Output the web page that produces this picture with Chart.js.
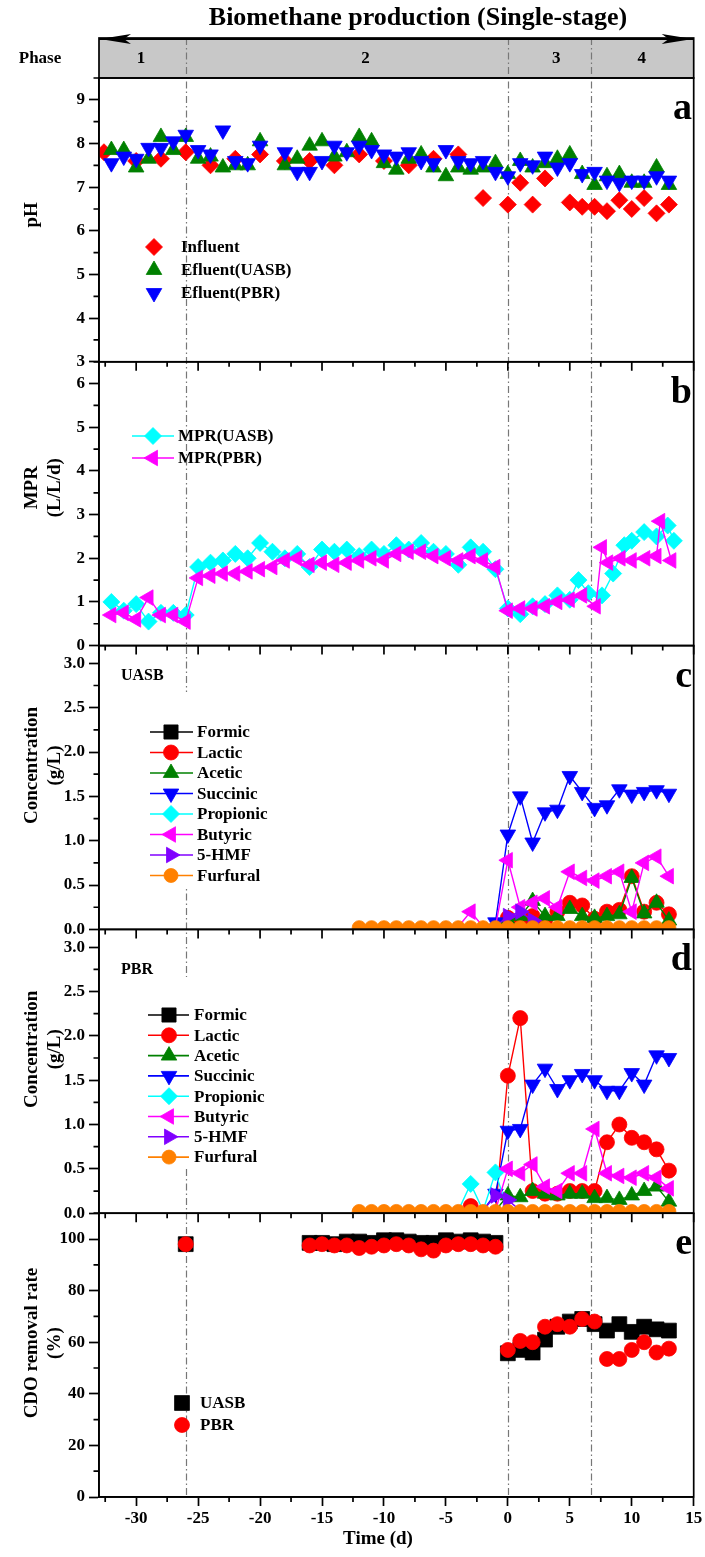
<!DOCTYPE html>
<html>
<head>
<meta charset="utf-8">
<title>Biomethane production (Single-stage)</title>
<script src="https://cdn.jsdelivr.net/npm/chart.js@4.4.1/dist/chart.umd.min.js"></script>
<style>
html,body{margin:0;padding:0;background:#fff;}
#box{position:relative;width:705px;height:1557px;}
canvas{display:block;}
</style>
</head>
<body>
<div id="box"><canvas id="chart" width="705" height="1557"></canvas></div>
<script>
// ================= DATA =================
const xTickVals = [-30,-25,-20,-15,-10,-5,0,5,10,15];
const xMinorVals = [-32.5,-27.5,-22.5,-17.5,-12.5,-7.5,-2.5,2.5,7.5,12.5];
const phaseBounds = [-26, 0, 6.7];
const phaseNames = ['1','2','3','4'];

// panel a : pH
const dayPH = [-32,-31,-30,-29,-28,-27,-26,-25,-24,-23,-22,-21,-20,-18,-17,-16,-15,-14,-13,-12,-11,-10,-9,-8,-7,-6,-5,-4,-3,-2,-1,0,1,2,3,4,5,6,7,8,9,10,11,12,13];
const phUASB = [7.85,7.85,7.45,7.65,8.15,7.85,8.15,7.65,7.7,7.45,7.5,7.5,8.05,7.5,7.65,7.95,8.05,7.7,7.8,8.15,8.05,7.55,7.4,7.65,7.75,7.45,7.25,7.45,7.4,7.45,7.55,7.3,7.6,7.45,7.55,7.65,7.75,7.3,7.05,7.25,7.3,7.1,7.1,7.45,7.05];
const phPBR = [7.55,7.7,7.65,7.9,7.9,8.05,8.2,7.85,7.75,8.3,7.6,7.55,7.95,7.8,7.35,7.35,7.6,7.95,7.8,7.95,7.85,7.75,7.7,7.8,7.6,7.55,7.85,7.6,7.55,7.6,7.35,7.25,7.55,7.5,7.7,7.45,7.55,7.3,7.35,7.15,7.1,7.15,7.15,7.25,7.15];
const dayInf = [-32.6,-30,-28,-26,-24,-22,-20,-18,-16,-14,-12,-10,-8,-6,-4,-2,0,1,2,3,5,6,7,8,9,10,11,12,13];
const phInf = [7.8,7.6,7.65,7.8,7.5,7.65,7.75,7.6,7.6,7.5,7.75,7.6,7.5,7.65,7.75,6.75,6.6,7.1,6.6,7.2,6.65,6.55,6.55,6.45,6.7,6.5,6.75,6.4,6.6];

// panel b : MPR
const dayMprU = [-32,-31,-30,-29,-28,-27,-26,-25,-24,-23,-22,-21,-20,-19,-18,-17,-16,-15,-14,-13,-12,-11,-10,-9,-8,-7,-6,-5,-4,-3,-2,-1,0,1,2,3,4,5,5.7,6.5,7.6,8.5,9.4,10,11,12,12.9,13.4];
const mprUASB = [1.0,0.8,0.95,0.55,0.75,0.75,0.7,1.8,1.9,1.95,2.1,2.0,2.35,2.15,2.0,2.1,1.8,2.2,2.15,2.2,2.05,2.2,2.1,2.3,2.2,2.35,2.15,2.1,1.85,2.25,2.15,1.75,0.85,0.72,0.9,0.95,1.15,1.05,1.5,1.2,1.15,1.65,2.3,2.4,2.6,2.5,2.75,2.4];
const dayMprP = [-32,-31,-30,-29,-28,-27,-26,-25,-24,-23,-22,-21,-20,-19,-18,-17,-16,-15,-14,-13,-12,-11,-10,-9,-8,-7,-6,-5,-4,-3,-2,-1,0,1,2,3,4,5,6,7.1,7.6,8.1,9.1,10,11.1,12,12.3,13.2];
const mprPBR = [0.7,0.75,0.6,1.1,0.7,0.7,0.55,1.55,1.6,1.65,1.65,1.7,1.75,1.8,1.95,2.0,1.85,1.9,1.85,1.9,1.95,2.0,1.95,2.1,2.15,2.15,2.05,2.0,1.95,2.05,1.95,1.8,0.8,0.85,0.85,0.9,1.0,1.05,1.15,0.9,2.25,1.9,2.0,1.95,2.0,2.05,2.85,1.95];

// panels c, d : acids (g/L)
const dayAcid = [-12,-11,-10,-9,-8,-7,-6,-5,-4,-3,-2,-1,0,1,2,3,4,5,6,7,8,9,10,11,12,13];
const formicC    = [0.03,0.03,0.03,0.03,0.03,0.03,0.03,0.03,0.03,0.03,0.03,0.03,0.04,0.03,0.05,0.03,0.03,0.04,0.03,0.03,0.03,0.03,0.04,0.03,0.03,0.03];
const lacticC    = [0.03,0.03,0.03,0.03,0.03,0.03,0.03,0.03,0.03,0.03,0.03,0.03,0.13,0.05,0.15,0.1,0.2,0.3,0.27,0.12,0.2,0.22,0.6,0.2,0.3,0.17];
const aceticC    = [0.03,0.03,0.03,0.03,0.03,0.03,0.03,0.03,0.03,0.03,0.03,0.03,0.1,0.15,0.32,0.15,0.15,0.23,0.15,0.13,0.15,0.17,0.58,0.18,0.3,0.1];
const succinicC  = [0.03,0.03,0.03,0.03,0.03,0.03,0.03,0.03,0.03,0.03,0.03,0.08,1.07,1.5,0.98,1.32,1.35,1.73,1.55,1.37,1.4,1.58,1.52,1.55,1.57,1.53];
const propionicC = [0.03,0.03,0.03,0.03,0.03,0.03,0.03,0.03,0.03,0.03,0.03,0.03,0.03,0.03,0.03,0.03,0.03,0.03,0.03,0.03,0.03,0.03,0.03,0.03,0.03,0.03];
const butyricC   = [0.03,0.03,0.03,0.03,0.03,0.03,0.03,0.03,0.03,0.2,0.03,0.03,0.78,0.25,0.3,0.35,0.25,0.65,0.58,0.55,0.6,0.65,0.2,0.75,0.82,0.6];
const hmfC       = [0.03,0.03,0.03,0.03,0.03,0.03,0.03,0.03,0.03,0.03,0.03,0.03,0.15,0.2,0.1,0.03,0.03,0.03,0.03,0.03,0.03,0.03,0.03,0.03,0.03,0.03];
const furfuralC  = [0.02,0.02,0.02,0.02,0.02,0.02,0.02,0.02,0.02,0.02,0.02,0.02,0.02,0.02,0.02,0.02,0.02,0.02,0.02,0.02,0.02,0.02,0.02,0.02,0.02,0.02];

const formicD    = [0.03,0.03,0.03,0.03,0.03,0.03,0.03,0.03,0.03,0.03,0.03,0.03,0.03,0.03,0.03,0.03,0.03,0.03,0.03,0.03,0.03,0.03,0.03,0.03,0.03,0.03];
const lacticD    = [0.03,0.03,0.03,0.03,0.03,0.03,0.03,0.03,0.03,0.08,0.03,0.03,1.55,2.2,0.25,0.22,0.22,0.25,0.25,0.25,0.8,1.0,0.85,0.8,0.72,0.48];
const aceticD    = [0.03,0.03,0.03,0.03,0.03,0.03,0.03,0.03,0.03,0.03,0.03,0.03,0.2,0.18,0.25,0.22,0.2,0.22,0.22,0.17,0.17,0.15,0.2,0.25,0.3,0.13];
const succinicD  = [0.03,0.03,0.03,0.03,0.03,0.03,0.03,0.03,0.03,0.03,0.03,0.22,0.93,0.95,1.45,1.63,1.4,1.5,1.57,1.5,1.38,1.38,1.58,1.45,1.78,1.75];
const propionicD = [0.03,0.03,0.03,0.03,0.03,0.03,0.03,0.03,0.03,0.33,0.03,0.46,0.03,0.03,0.03,0.03,0.03,0.03,0.03,0.03,0.03,0.03,0.03,0.03,0.03,0.03];
const butyricD   = [0.03,0.03,0.03,0.03,0.03,0.03,0.03,0.03,0.03,0.03,0.03,0.03,0.5,0.45,0.55,0.3,0.25,0.45,0.45,0.95,0.45,0.42,0.4,0.45,0.4,0.28];
const hmfD       = [0.03,0.03,0.03,0.03,0.03,0.03,0.03,0.03,0.03,0.03,0.03,0.2,0.15,0.03,0.03,0.03,0.03,0.03,0.03,0.03,0.03,0.03,0.03,0.03,0.03,0.03];
const furfuralD  = [0.02,0.02,0.02,0.02,0.02,0.02,0.02,0.02,0.02,0.02,0.02,0.02,0.02,0.02,0.02,0.02,0.02,0.02,0.02,0.02,0.02,0.02,0.02,0.02,0.02,0.02];

// panel e : COD removal (%)
const dayCOD = [-26,-16,-15,-14,-13,-12,-11,-10,-9,-8,-7,-6,-5,-4,-3,-2,-1,0,1,2,3,4,5,6,7,8,9,10,11,12,13];
const codUASB = [98,98.5,98.5,98,99,99,98.5,99.5,99.5,99,98.5,98.5,99.5,99,99.5,99,98.5,55.7,57,56,61,66,68,69,67,64.5,67,64,66,65,64.5];
const codPBR  = [98,97.5,98,97.5,97.5,96.5,97,97.5,98,97.5,96,95.5,97.5,98,98,97.5,97,57,60.5,60,66,67,66,69,68,53.5,53.5,57,60,56,57.5];

// tick labels
const ticksA = [3,4,5,6,7,8,9];
const ticksB = [0,1,2,3,4,5,6];
const ticksCD = [0,0.5,1,1.5,2,2.5,3];
const ticksE = [0,20,40,60,80,100];

// ================= STYLE / LAYOUT =================
const FAM = "'Liberation Serif','Times New Roman',Times,serif";
const bf = s => `bold ${s}px ${FAM}`;
const L = {titleY: 18, titleX: 418, barTop: 38, barBot: 78, leftW: 99, xH: 60,
  phaseLabelX: [-29.6, -11.5, 3.9, 10.8], ytitle1: 32, ytitle2: 55, xTitleX: 378, xTitleY: 1539};

const ST = {
  inf:  {c:'#ff0000', ps:'rectRot',  rot:0,   r:8.5},
  effU: {c:'#008000', ps:'triangle', rot:0,   r:9},
  effP: {c:'#0000ff', ps:'triangle', rot:180, r:9},
  mprU: {c:'#00ffff', ps:'rectRot',  rot:0,   r:8.5},
  mprP: {c:'#ff00ff', ps:'triangle', rot:-90, r:9},
  formic:   {c:'#000000', ps:'rect',     rot:0,   r:10},
  lactic:   {c:'#ff0000', ps:'circle',   rot:0,   r:7.5},
  acetic:   {c:'#008000', ps:'triangle', rot:0,   r:9},
  succinic: {c:'#0000ff', ps:'triangle', rot:180, r:9},
  propionic:{c:'#00ffff', ps:'rectRot',  rot:0,   r:8.5},
  butyric:  {c:'#ff00ff', ps:'triangle', rot:-90, r:9},
  hmf:      {c:'#8000ff', ps:'triangle', rot:90,  r:9},
  furfural: {c:'#ff8000', ps:'circle',   rot:0,   r:7},
  codU: {c:'#000000', ps:'rect',   rot:0, r:10.5},
  codP: {c:'#ff0000', ps:'circle', rot:0, r:7.5}
};

const datasets = [];
function addSet(label, days, vals, yID, st, showLine, order, small) {
  datasets.push({
    label, yAxisID: yID, xAxisID: 'x', showLine, order, tension: 0,
    data: days.map((d, i) => ({x: d, y: vals[i]})),
    borderColor: st.c, backgroundColor: st.c, borderWidth: 1.4,
    pointStyle: st.ps, pointRotation: st.rot,
    pointRadius: small ? (c => (c.raw && c.raw.y < 0.05 ? small : st.r)) : st.r,
    pointHoverRadius: st.r,
    pointBackgroundColor: st.c, pointBorderColor: st.c, pointBorderWidth: 0.8
  });
}
addSet('Influent', dayInf, phInf, 'ya', ST.inf, false, 3);
addSet('Efluent(UASB)', dayPH, phUASB, 'ya', ST.effU, false, 2);
addSet('Efluent(PBR)', dayPH, phPBR, 'ya', ST.effP, false, 1);
addSet('MPR(UASB)', dayMprU, mprUASB, 'yb', ST.mprU, true, 5);
addSet('MPR(PBR)', dayMprP, mprPBR, 'yb', ST.mprP, true, 4);

const acidNames = ['Formic','Lactic','Acetic','Succinic','Propionic','Butyric','5-HMF','Furfural'];
const acidKeys = ['formic','lactic','acetic','succinic','propionic','butyric','hmf','furfural'];
const acidC = [formicC, lacticC, aceticC, succinicC, propionicC, butyricC, hmfC, furfuralC];
const acidD = [formicD, lacticD, aceticD, succinicD, propionicD, butyricD, hmfD, furfuralD];
acidNames.forEach((n, i) => addSet(n, dayAcid, acidC[i], 'yc', ST[acidKeys[i]], true, 20 - i, i === 7 ? 0 : 3.5));
acidNames.forEach((n, i) => addSet(n, dayAcid, acidD[i], 'yd', ST[acidKeys[i]], true, 40 - i, i === 7 ? 0 : 3.5));
addSet('UASB', dayCOD, codUASB, 'ye', ST.codU, false, 51);
addSet('PBR', dayCOD, codPBR, 'ye', ST.codP, false, 50);

const panels = [
  {id:'ya', min:3, max:9.5, ticks:ticksA, minor:0.5, dec:0, title:['pH'], letter:'a', tOff:-5},
  {id:'yb', min:0, max:6.5, ticks:ticksB, minor:0.5, dec:0, title:['MPR','(L/L/d)'], letter:'b', tOff:-16},
  {id:'yc', min:0, max:3.2, ticks:ticksCD, minor:0.25, dec:1, title:['Concentration','(g/L)'], letter:'c', tOff:-22},
  {id:'yd', min:0, max:3.2, ticks:ticksCD, minor:0.25, dec:1, title:['Concentration','(g/L)'], letter:'d', tOff:-22},
  {id:'ye', min:0, max:110, ticks:ticksE, minor:10, dec:0, title:['CDO removal rate','(%)'], letter:'e', tOff:-12}
];

const legends = [
  {mx:154, tx:181, y0:247, dy:23, line:false, items:[['Influent',ST.inf],['Efluent(UASB)',ST.effU],['Efluent(PBR)',ST.effP]]},
  {mx:153, tx:178, lx0:132, lx1:174, y0:436, dy:22, line:true, items:[['MPR(UASB)',ST.mprU],['MPR(PBR)',ST.mprP]]},
  {mx:171, tx:197, lx0:150, lx1:193, y0:732, dy:20.5, line:true, box:[140,692,142,196], tag:['UASB',121,676],
    items: acidNames.map((n,i)=>[n, ST[acidKeys[i]]])},
  {mx:169, tx:194, lx0:148, lx1:189, y0:1015, dy:20.3, line:true, box:[140,977,142,192], tag:['PBR',121,970],
    items: acidNames.map((n,i)=>[n, ST[acidKeys[i]]])},
  {mx:182, tx:200, y0:1403, dy:22, line:false, items:[['UASB',ST.codU],['PBR',ST.codP]]}
];

function drawMarker(ctx, st, x, y) {
  const r = st.r;
  ctx.save();
  ctx.fillStyle = st.c; ctx.strokeStyle = st.c; ctx.lineWidth = 0.8; ctx.setLineDash([]);
  ctx.beginPath();
  if (st.ps === 'circle') ctx.arc(x, y, r, 0, Math.PI * 2);
  else if (st.ps === 'rect') { const s = r * Math.SQRT1_2; ctx.rect(x - s, y - s, 2 * s, 2 * s); }
  else if (st.ps === 'rectRot') { ctx.moveTo(x - r, y); ctx.lineTo(x, y - r); ctx.lineTo(x + r, y); ctx.lineTo(x, y + r); ctx.closePath(); }
  else {
    let a = st.rot * Math.PI / 180;
    ctx.moveTo(x + Math.sin(a) * r, y - Math.cos(a) * r);
    a += 2 * Math.PI / 3; ctx.lineTo(x + Math.sin(a) * r, y - Math.cos(a) * r);
    a += 2 * Math.PI / 3; ctx.lineTo(x + Math.sin(a) * r, y - Math.cos(a) * r);
    ctx.closePath();
  }
  ctx.fill(); ctx.stroke();
  ctx.restore();
}

const deco = {
  id: 'deco',
  beforeDatasetsDraw(chart) {
    const {ctx, chartArea: ca, scales} = chart;
    ctx.save();
    ctx.fillStyle = '#c8c8c8';
    ctx.fillRect(ca.left, L.barTop, ca.right - ca.left, L.barBot - L.barTop);
    ctx.strokeStyle = '#777'; ctx.lineWidth = 1.2; ctx.setLineDash([7, 3, 1.5, 3]);
    phaseBounds.forEach(b => {
      const px = Math.round(scales.x.getPixelForValue(b)) + 0.5;
      ctx.beginPath(); ctx.moveTo(px, L.barTop); ctx.lineTo(px, ca.bottom); ctx.stroke();
    });
    ctx.restore();
  },
  afterDatasetsDraw(chart) {
    const {ctx, chartArea: ca, scales} = chart;
    const xs = scales.x;
    ctx.save();
    // legends
    legends.forEach(lg => {
      if (lg.box) { ctx.fillStyle = '#fff'; ctx.fillRect(lg.box[0], lg.box[1], lg.box[2], lg.box[3]); }
      if (lg.tag) { ctx.fillStyle = '#000'; ctx.font = bf(16); ctx.textAlign = 'left'; ctx.textBaseline = 'middle'; ctx.fillText(lg.tag[0], lg.tag[1], lg.tag[2]); }
      lg.items.forEach((it, i) => {
        const y = lg.y0 + i * lg.dy;
        const st = it[1];
        if (lg.line) { ctx.strokeStyle = st.c; ctx.lineWidth = 1.6; ctx.setLineDash([]); ctx.beginPath(); ctx.moveTo(lg.lx0, y); ctx.lineTo(lg.lx1, y); ctx.stroke(); }
        drawMarker(ctx, st, lg.mx, y);
        ctx.fillStyle = '#000'; ctx.font = bf(17); ctx.textAlign = 'left'; ctx.textBaseline = 'middle';
        ctx.fillText(it[0], lg.tx, y + 1);
      });
    });
    // frames, minor ticks
    ctx.strokeStyle = '#000'; ctx.lineWidth = 1.7; ctx.setLineDash([]);
    panels.forEach((p, pi) => {
      const s = scales[p.id];
      ctx.strokeRect(ca.left, s.top, ca.right - ca.left, s.bottom - s.top);
      ctx.beginPath();
      for (let k = 1; p.min + k * p.minor < p.max + 1e-9; k += 2) {
        const py = s.getPixelForValue(p.min + k * p.minor);
        ctx.moveTo(ca.left - 5.5, py); ctx.lineTo(ca.left, py);
      }
      // x ticks at bottom of panel
      xMinorVals.forEach(v => { const px = xs.getPixelForValue(v); ctx.moveTo(px, s.bottom); ctx.lineTo(px, s.bottom + 5); });
      if (pi < panels.length - 1) {
        xTickVals.forEach(v => { const px = xs.getPixelForValue(v); ctx.moveTo(px, s.bottom); ctx.lineTo(px, s.bottom + 9); });
      }
      ctx.stroke();
      // letter
      ctx.fillStyle = '#000'; ctx.font = bf(38); ctx.textAlign = 'right'; ctx.textBaseline = 'alphabetic';
      ctx.fillText(p.letter, 692, s.top + 41);
      // y title
      const cy = (s.top + s.bottom) / 2 + p.tOff;
      ctx.font = bf(19); ctx.textAlign = 'center'; ctx.textBaseline = 'middle';
      p.title.forEach((t, ti) => {
        ctx.save(); ctx.translate(ti === 0 ? L.ytitle1 : L.ytitle2, cy); ctx.rotate(-Math.PI / 2); ctx.fillText(t, 0, 0); ctx.restore();
      });
    });
    // phase bar border + arrows + labels
    ctx.strokeStyle = '#000'; ctx.lineWidth = 1.7;
    ctx.strokeRect(ca.left, L.barTop, ca.right - ca.left, L.barBot - L.barTop);
    ctx.fillStyle = '#000';
    const ay = L.barTop + 1;
    ctx.beginPath(); ctx.moveTo(ca.left + 1, ay); ctx.lineTo(ca.left + 32, ay - 5); ctx.lineTo(ca.left + 25, ay); ctx.lineTo(ca.left + 32, ay + 5); ctx.closePath(); ctx.fill();
    ctx.beginPath(); ctx.moveTo(ca.right - 1, ay); ctx.lineTo(ca.right - 32, ay - 5); ctx.lineTo(ca.right - 25, ay); ctx.lineTo(ca.right - 32, ay + 5); ctx.closePath(); ctx.fill();
    ctx.lineWidth = 2.2; ctx.beginPath(); ctx.moveTo(ca.left, ay); ctx.lineTo(ca.right, ay); ctx.stroke();
    const my = (L.barTop + L.barBot) / 2 + 1;
    ctx.font = bf(17); ctx.textAlign = 'center'; ctx.textBaseline = 'middle';
    phaseNames.forEach((n, i) => ctx.fillText(n, xs.getPixelForValue(L.phaseLabelX[i]), my));
    ctx.fillText('Phase', 40, my);
    // chart title
    ctx.font = bf(26);
    ctx.fillText('Biomethane production (Single-stage)', L.titleX, L.titleY);
    // x title
    ctx.font = bf(19);
    ctx.fillText('Time (d)', L.xTitleX, L.xTitleY);
    ctx.restore();
  }
};

const tickFont = {family: FAM, size: 17, weight: 'bold'};
const scales = {
  x: {
    type: 'linear', position: 'bottom', min: -33, max: 15,
    afterBuildTicks: s => { s.ticks = xTickVals.map(v => ({value: v})); },
    ticks: {font: tickFont, color: '#000', padding: 2, maxRotation: 0, autoSkip: false},
    grid: {display: true, drawOnChartArea: false, drawTicks: true, tickLength: 9, tickColor: '#000', tickWidth: 1.7},
    border: {display: true, color: '#000', width: 1.7},
    afterFit: s => { s.height = L.xH; s.paddingLeft = 0; s.paddingRight = 0; }
  }
};
panels.forEach((p, i) => {
  scales[p.id] = {
    type: 'linear', position: 'left', stack: 'panels', stackWeight: 1, weight: 10 - i,
    min: p.min, max: p.max,
    afterBuildTicks: s => { s.ticks = p.ticks.map(v => ({value: v})); },
    ticks: {font: tickFont, color: '#000', padding: 4, autoSkip: false,
      callback: v => Number(v).toFixed(p.dec)},
    grid: {display: true, drawOnChartArea: false, drawTicks: true, tickLength: 10, tickColor: '#000', tickWidth: 1.7},
    border: {display: true, color: '#000', width: 1.7},
    afterFit: s => { s.width = L.leftW; s.paddingTop = 0; s.paddingBottom = 0; }
  };
});

new Chart(document.getElementById('chart'), {
  type: 'scatter',
  data: {datasets},
  options: {
    responsive: false, animation: false, devicePixelRatio: 1,
    layout: {padding: {top: L.barBot, right: 5, bottom: 0, left: 0}},
    plugins: {legend: {display: false}, tooltip: {enabled: false}},
    scales
  },
  plugins: [deco]
});
</script>
</body>
</html>
